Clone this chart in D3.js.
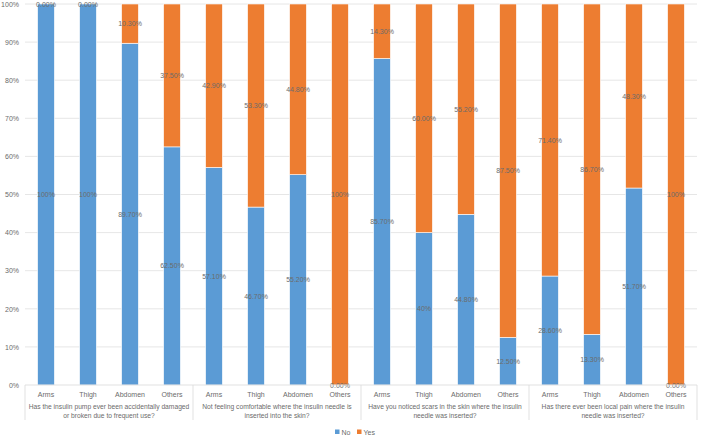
<!DOCTYPE html>
<html><head><meta charset="utf-8">
<script src="https://cdn.jsdelivr.net/npm/d3@7"></script>
<style>body{margin:0;background:#fff}svg{display:block;font-family:"Liberation Sans",Arial,sans-serif}</style>
</head><body><svg id="c" width="703" height="437"></svg>
<script>
const questions = [
  ["Has the insulin pump ever been accidentally damaged", "or broken due to frequent use?"],
  ["Not feeling comfortable where the insulin needle is", "inserted into the skin?"],
  ["Have you noticed scars in the skin where the insulin", "needle was inserted?"],
  ["Has there ever been local pain where the insulin", "needle was inserted?"]
];
const sites = ["Arms", "Thigh", "Abdomen", "Others"];
const noValues = [100, 100, 89.7, 62.5, 57.1, 46.7, 55.2, 0, 85.7, 40, 44.8, 12.5, 28.6, 13.3, 51.7, 0];
const yesValues = [0, 0, 10.3, 37.5, 42.9, 53.3, 44.8, 100, 14.3, 60, 55.2, 87.5, 71.4, 86.7, 48.3, 100];
const noLabels = ["100%", "100%", "89.70%", "62.50%", "57.10%", "46.70%", "55.20%", "0.00%", "85.70%", "40%", "44.80%", "12.50%", "28.60%", "13.30%", "51.70%", "0.00%"];
const yesLabels = ["0.00%", "0.00%", "10.30%", "37.50%", "42.90%", "53.30%", "44.80%", "100%", "14.30%", "60.00%", "55.20%", "87.50%", "71.40%", "86.70%", "48.30%", "100%"];
const seriesNames = ["No", "Yes"];
const yTicks = [0, 10, 20, 30, 40, 50, 60, 70, 80, 90, 100];

const colors = {No: "#5B9BD5", Yes: "#ED7D31"};
const svg = d3.select("#c");
const L = 25, R = 697, T = 4, B = 385;

const rows = [];
questions.forEach((q, g) => sites.forEach((s, i) => {
  const k = g * 4 + i;
  rows.push({id: g + "-" + s, g, site: s, No: noValues[k], Yes: yesValues[k], NoL: noLabels[k], YesL: yesLabels[k]});
}));

const x = d3.scaleBand().domain(rows.map(d => d.id)).range([L, R]).paddingInner(0.6).paddingOuter(0.3);
const y = d3.scaleLinear().domain([0, 100]).range([B, T]);

// gridlines
svg.append("g").selectAll("line").data(yTicks.filter(t => t > 0)).join("line")
  .attr("x1", L).attr("x2", R).attr("y1", d => y(d)).attr("y2", d => y(d))
  .attr("stroke", "#e0e0e0").attr("stroke-width", 0.8);

// y axis labels
const yAxis = d3.axisLeft(y).tickValues(yTicks).tickFormat(d => d + "%").tickSize(0).tickPadding(6);
const yg = svg.append("g").attr("transform", `translate(${L},0)`).call(yAxis);
yg.select(".domain").remove();
yg.selectAll("text").attr("fill", "#6b6b6b").attr("font-size", 7);

// stacks
const stack = d3.stack().keys(seriesNames)(rows);
const layers = svg.append("g").selectAll("g").data(stack).join("g").attr("fill", d => colors[d.key]);
layers.selectAll("rect").data(d => d).join("rect")
  .attr("x", d => x(d.data.id)).attr("width", x.bandwidth())
  .attr("y", d => y(d[1])).attr("height", d => y(d[0]) - y(d[1]))
  .attr("stroke", "#fff").attr("stroke-width", 0.6);

// data labels
stack.forEach(layer => {
  svg.append("g").selectAll("text").data(layer).join("text")
    .attr("x", d => x(d.data.id) + x.bandwidth() / 2)
    .attr("y", d => (y(d[0]) + y(d[1])) / 2)
    .attr("text-anchor", "middle").attr("dominant-baseline", "central")
    .attr("font-size", 7).attr("fill", "#6b6b6b")
    .text(d => d.data[layer.key + "L"]);
});

// x axis line
svg.append("line").attr("x1", L).attr("x2", R).attr("y1", B).attr("y2", B).attr("stroke", "#d9d9d9").attr("stroke-width", 0.8);

// category labels
svg.append("g").selectAll("text").data(rows).join("text")
  .attr("x", d => x(d.id) + x.bandwidth() / 2).attr("y", 394)
  .attr("text-anchor", "middle").attr("dominant-baseline", "central")
  .attr("font-size", 7).attr("fill", "#6b6b6b").text(d => d.site);

// group separators
const step = x.step();
const seps = [0, 1, 2, 3, 4].map(g => g < 4 ? x(rows[g * 4].id) + x.bandwidth() / 2 - step / 2 : x(rows[15].id) + x.bandwidth() / 2 + step / 2);
svg.append("g").selectAll("line").data(seps).join("line")
  .attr("x1", d => d).attr("x2", d => d).attr("y1", B).attr("y2", 420)
  .attr("stroke", "#d9d9d9").attr("stroke-width", 0.8);

// group labels
questions.forEach((q, g) => {
  const cx = (seps[g] + seps[g + 1]) / 2;
  q.forEach((line, j) => {
    svg.append("text").attr("x", cx).attr("y", 406 + j * 9.3)
      .attr("text-anchor", "middle").attr("dominant-baseline", "central")
      .attr("font-size", 6.7).attr("fill", "#6b6b6b").text(line);
  });
});

// legend
const leg = svg.append("g");
const legX = [335, 357];
seriesNames.forEach((s, i) => {
  leg.append("rect").attr("x", legX[i]).attr("y", 429.5).attr("width", 4.5).attr("height", 4.5).attr("fill", colors[s]);
  leg.append("text").attr("x", legX[i] + 6.5).attr("y", 432).attr("dominant-baseline", "central")
    .attr("font-size", 7).attr("fill", "#6b6b6b").text(s);
});
</script></body></html>
